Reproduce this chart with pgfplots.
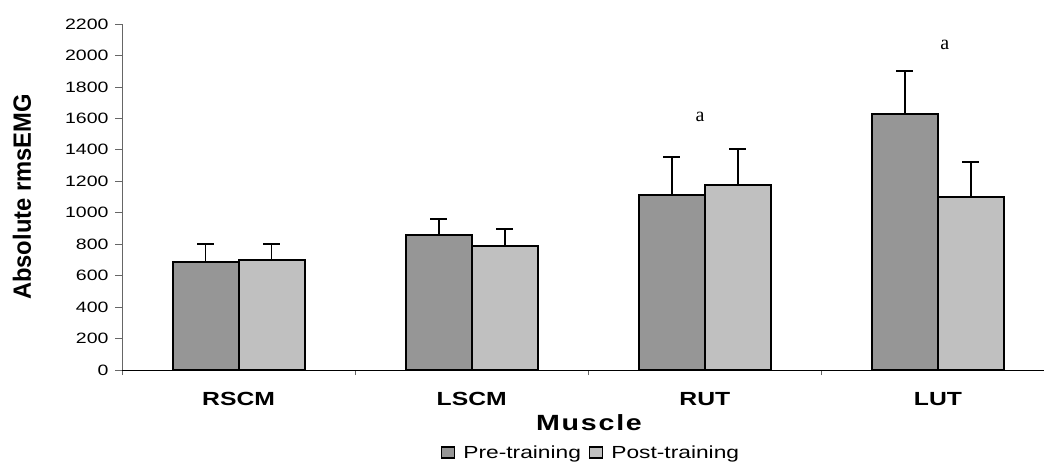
\documentclass[border=0pt]{standalone}
\usepackage{fontspec}
\setmainfont{Liberation Sans}[FakeStretch=1.3]
\newfontfamily\ylabfont{Liberation Sans}[FakeStretch=0.95]
\newfontfamily\muscfont{Liberation Sans}[FakeStretch=1.3, LetterSpace=8]
\newfontfamily\serfont{Liberation Serif}
\usepackage{pgfplots}
\pgfplotsset{compat=1.18}
\definecolor{preC}{HTML}{969696}
\definecolor{postC}{HTML}{C0C0C0}
\begin{document}
\begin{tikzpicture}
\useasboundingbox (0,0) rectangle (1044bp,467bp);
\begin{axis}[
  at={(122bp,97bp)}, anchor=south west,
  scale only axis, width=922bp, height=346bp,
  xmin=-0.5, xmax=3.455, ymin=0, ymax=2200,
  ytick={0,200,...,2200},
  xtick={0,1,2,3},
  xticklabels={RSCM,LSCM,RUT,LUT},
  minor xtick={-0.5,0.5,1.5,2.5},
  axis x line*=bottom, axis y line*=left,
  axis line style={-},
  y axis line style={gray!80!black, line width=0.8bp},
  x axis line style={black, line width=1bp},
  tick align=outside,
  major x tick style={draw=none},
  minor x tick style={gray!80!black, line width=0.8bp},
  minor tick length=5bp,
  major tick length=7bp,
  ytick style={gray!80!black, line width=0.8bp},
  /pgf/number format/assume math mode=true,
  /pgf/number format/1000 sep={},
  yticklabel style={font=\fontsize{15bp}{18bp}\selectfont, xshift=-3bp},
  xticklabel style={font=\fontsize{19bp}{22bp}\selectfont\bfseries, yshift=-12bp},
  ybar=0pt, bar width=66bp,
  legend style={at={(rel axis cs:0.5087,-0.24)}, anchor=center, draw=none,
    legend columns=2, font=\fontsize{17.5bp}{20bp}\selectfont,
    /tikz/every odd column/.append style={column sep=6bp},
    /tikz/every even column/.append style={column sep=6bp}},
  legend image code/.code={\draw[#1, draw=black, line width=1.4bp] (0bp,-5bp) rectangle (13bp,6bp);},
  clip=false,
]
\addplot[fill=preC, draw=black, line width=2bp,
  error bars/.cd, y dir=plus, y explicit,
  error bar style={line width=1.8bp, black},
  error mark options={rotate=90, mark size=8.5bp, line width=1.8bp, black}]
  coordinates {(0,687) +- (0,116) (1,858) +- (0,102) (2,1111) +- (0,245) (3,1630) +- (0,273)};
\addplot[fill=postC, draw=black, line width=2bp,
  error bars/.cd, y dir=plus, y explicit,
  error bar style={line width=1.8bp, black},
  error mark options={rotate=90, mark size=8.5bp, line width=1.8bp, black}]
  coordinates {(0,699) +- (0,104) (1,790) +- (0,107) (2,1174) +- (0,233) (3,1098) +- (0,224)};
\legend{Pre-training, Post-training}
\node[font=\serfont\fontsize{20bp}{22bp}\selectfont] at (axis cs:1.98,1609) {a};
\node[font=\serfont\fontsize{20bp}{22bp}\selectfont] at (axis cs:3.03,2066) {a};
\end{axis}
\node[font=\muscfont\fontsize{22bp}{24bp}\selectfont\bfseries] at (589bp,44bp) {Muscle};
\node[rotate=90, font=\ylabfont\fontsize{25bp}{28bp}\selectfont\bfseries] at (22bp,270bp) {Absolute rmsEMG};
\end{tikzpicture}
\end{document}
